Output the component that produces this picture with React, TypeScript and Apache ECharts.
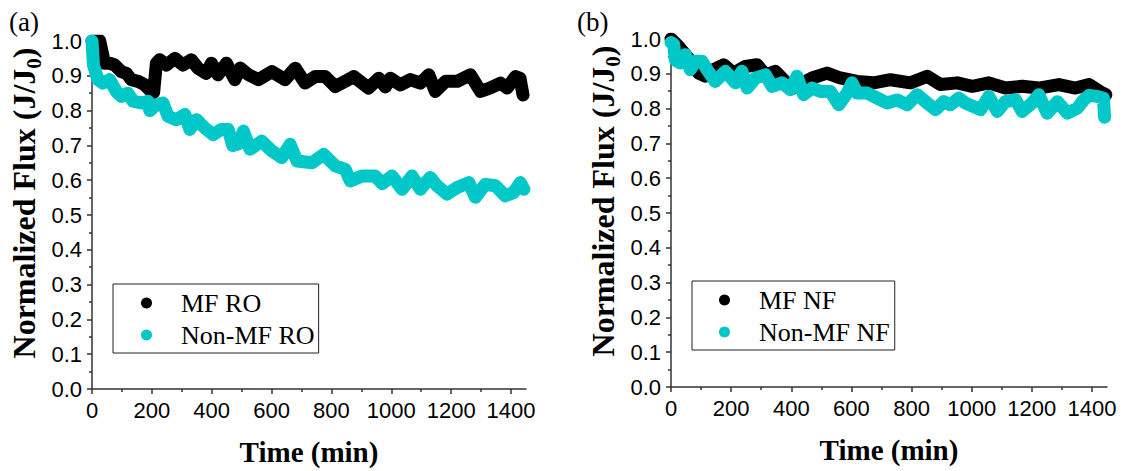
import React, { useEffect, useRef } from "react";
import * as echarts from "echarts";

// ---- data (time in min, normalized flux J/J0) ----
const mfRO: [number, number][] = [
  [0, 1.0], [26, 1.0], [42, 0.936], [59, 0.936], [76, 0.931], [98, 0.912], [115, 0.907],
  [131, 0.889], [154, 0.884], [176, 0.874], [198, 0.855], [206, 0.852], [215, 0.936],
  [226, 0.946], [249, 0.931], [277, 0.95], [304, 0.931], [332, 0.946], [354, 0.922],
  [382, 0.907], [399, 0.936], [421, 0.903], [449, 0.936], [477, 0.889], [495, 0.922],
  [523, 0.903], [556, 0.889], [601, 0.912], [645, 0.889], [679, 0.922], [712, 0.879],
  [746, 0.898], [779, 0.898], [813, 0.869], [846, 0.884], [874, 0.898], [924, 0.865],
  [958, 0.893], [980, 0.868], [997, 0.893], [1030, 0.874], [1064, 0.889], [1097, 0.879],
  [1125, 0.903], [1147, 0.855], [1181, 0.884], [1220, 0.884], [1264, 0.903], [1298, 0.855],
  [1331, 0.865], [1365, 0.879], [1387, 0.865], [1415, 0.898], [1430, 0.893], [1440, 0.845]
];
const nonMfRO: [number, number][] = [
  [0, 1.0], [5, 0.93], [20, 0.889], [37, 0.879], [59, 0.889], [81, 0.855], [98, 0.841],
  [120, 0.85], [137, 0.827], [165, 0.822], [187, 0.827], [193, 0.8], [215, 0.817],
  [237, 0.822], [254, 0.784], [282, 0.774], [310, 0.789], [327, 0.746], [349, 0.774],
  [377, 0.75], [405, 0.731], [432, 0.746], [455, 0.746], [470, 0.7], [490, 0.705],
  [506, 0.741], [528, 0.689], [567, 0.712], [601, 0.684], [634, 0.665], [662, 0.703],
  [685, 0.655], [735, 0.65], [774, 0.674], [813, 0.641], [846, 0.631], [863, 0.598],
  [902, 0.612], [946, 0.612], [970, 0.59], [1002, 0.612], [1036, 0.574], [1069, 0.612],
  [1097, 0.574], [1130, 0.608], [1153, 0.584], [1186, 0.56], [1220, 0.579], [1259, 0.593],
  [1281, 0.551], [1314, 0.588], [1348, 0.584], [1381, 0.555], [1409, 0.565], [1431, 0.593],
  [1443, 0.574]
];
const mfNF: [number, number][] = [
  [0, 1.0], [25, 0.979], [48, 0.955], [70, 0.931], [92, 0.902], [114, 0.893], [142, 0.912],
  [175, 0.926], [208, 0.902], [247, 0.921], [286, 0.926], [314, 0.897], [347, 0.907],
  [380, 0.878], [403, 0.858], [447, 0.878], [469, 0.888], [519, 0.902], [563, 0.888],
  [619, 0.878], [674, 0.874], [730, 0.883], [796, 0.874], [852, 0.893], [896, 0.869],
  [952, 0.874], [1002, 0.864], [1057, 0.874], [1112, 0.859], [1168, 0.864], [1223, 0.859],
  [1290, 0.869], [1345, 0.859], [1390, 0.869], [1434, 0.845], [1446, 0.84]
];
const nonMfNF: [number, number][] = [
  [0, 0.99], [9, 0.985], [14, 0.94], [31, 0.931], [48, 0.955], [64, 0.912], [81, 0.936],
  [103, 0.936], [120, 0.912], [147, 0.878], [181, 0.907], [214, 0.874], [236, 0.907],
  [253, 0.859], [281, 0.888], [314, 0.897], [336, 0.864], [369, 0.874], [397, 0.854],
  [419, 0.893], [441, 0.84], [469, 0.859], [497, 0.849], [530, 0.849], [558, 0.811],
  [586, 0.845], [602, 0.874], [619, 0.845], [652, 0.845], [686, 0.83], [719, 0.816],
  [752, 0.825], [785, 0.811], [819, 0.84], [852, 0.816], [880, 0.797], [907, 0.82],
  [929, 0.811], [957, 0.83], [979, 0.816], [1029, 0.797], [1057, 0.835], [1085, 0.792],
  [1112, 0.82], [1146, 0.825], [1168, 0.792], [1201, 0.816], [1223, 0.84], [1251, 0.787],
  [1285, 0.82], [1318, 0.787], [1351, 0.801], [1373, 0.825], [1390, 0.838], [1418, 0.835],
  [1438, 0.83], [1442, 0.775]
];

const xMajorTicks = [0, 200, 400, 600, 800, 1000, 1200, 1400];
const xMinorTicks = [100, 300, 500, 700, 900, 1100, 1300];
const xMax = 1450;
const yMin = 0;
const yMax = 1;
const yInterval = 0.1;

const seriesNamesA = ["MF RO", "Non-MF RO"];
const seriesNamesB = ["MF NF", "Non-MF NF"];
const BLACK = "#000000";
const CYAN = "#00C8C8";

const AXIS_COLOR = "#333333";
const SANS = "Liberation Sans";
const SERIF = "Liberation Serif";

function xAxes(gridIndex: number) {
  const lineStyle = { color: AXIS_COLOR, width: 1.5 };
  return [
    {
      type: "value",
      gridIndex,
      min: 0,
      max: xMax,
      axisLine: { show: true, onZero: false, lineStyle },
      axisTick: { show: true, length: 5, customValues: xMajorTicks, lineStyle },
      axisLabel: {
        customValues: xMajorTicks,
        formatter: (v: number) => String(v),
        fontSize: 22,
        fontFamily: SANS,
        color: "#000",
        margin: 10,
      },
      splitLine: { show: false },
      name: "Time (min)",
      nameLocation: "middle",
      nameGap: 48,
      nameTextStyle: { fontSize: 29, fontFamily: SERIF, fontWeight: "bold", color: "#000" },
    },
    {
      type: "value",
      gridIndex,
      min: 0,
      max: xMax,
      position: "bottom",
      axisLine: { show: false },
      axisTick: { show: true, length: 3, customValues: xMinorTicks, lineStyle },
      axisLabel: { show: false },
      splitLine: { show: false },
    },
  ];
}

function yAxis(gridIndex: number) {
  const lineStyle = { color: AXIS_COLOR, width: 1.5 };
  return {
    type: "value",
    gridIndex,
    min: yMin,
    max: yMax,
    interval: yInterval,
    axisLine: { show: true, onZero: false, lineStyle },
    axisTick: { show: true, length: 5, lineStyle },
    minorTick: { show: true, splitNumber: 2, length: 3, lineStyle },
    axisLabel: {
      formatter: (v: number) => v.toFixed(1),
      fontSize: 22,
      fontFamily: SANS,
      color: "#000",
      margin: 10,
    },
    splitLine: { show: false },
    minorSplitLine: { show: false },
    name: "{t|Normalized Flux (J/J}{s|0}{t|)}",
    nameLocation: "middle",
    nameGap: 48,
    nameTextStyle: {
      padding: [0, 0, 0, 24],
      rich: {
        t: { fontSize: 32, fontFamily: SERIF, fontWeight: "bold", color: "#000", lineHeight: 40 },
        s: { fontSize: 21, fontFamily: SERIF, fontWeight: "bold", color: "#000", verticalAlign: "bottom" },
      },
    },
  };
}

function lineSeries(name: string, data: [number, number][], color: string, xi: number, yi: number) {
  return {
    type: "line",
    name,
    data,
    xAxisIndex: xi,
    yAxisIndex: yi,
    showSymbol: false,
    symbol: "circle",
    color,
    itemStyle: { color },
    lineStyle: { width: 13, color, cap: "round", join: "round" },
    clip: true,
    silent: true,
    emphasis: { disabled: true },
  };
}

function legend(names: string[], left: number, top: number, padding: number[]) {
  return {
    data: names,
    left,
    top,
    orient: "vertical",
    icon: "circle",
    itemWidth: 11,
    itemHeight: 11,
    itemGap: 6,
    padding,
    borderColor: "#222",
    borderWidth: 1,
    selectedMode: false,
    textStyle: { fontSize: 26, fontFamily: SERIF, color: "#000", padding: [0, 0, 0, 24] },
  };
}

export default function App() {
  const ref = useRef<HTMLDivElement>(null);
  useEffect(() => {
    if (!ref.current) return;
    const chart = echarts.init(ref.current, undefined, { renderer: "svg" });
    chart.setOption({
      animation: false,
      backgroundColor: "#ffffff",
      grid: [
        { left: 92, top: 41, width: 434, height: 350 },
        { left: 671, top: 39, width: 436, height: 348 },
      ],
      xAxis: [...xAxes(0), ...xAxes(1)],
      yAxis: [yAxis(0), yAxis(1)],
      legend: [
        legend(seriesNamesA, 113, 284, [6, 4, 5, 28]),
        legend(seriesNamesB, 692, 281, [6, 5, 5, 27]),
      ],
      series: [
        lineSeries(seriesNamesA[0], mfRO, BLACK, 0, 0),
        lineSeries(seriesNamesA[1], nonMfRO, CYAN, 0, 0),
        lineSeries(seriesNamesB[0], mfNF, BLACK, 2, 1),
        lineSeries(seriesNamesB[1], nonMfNF, CYAN, 2, 1),
      ],
      graphic: [
        {
          type: "text",
          x: 9,
          y: 22,
          style: { text: "(a)", fontSize: 27, fontFamily: SERIF, fill: "#000", verticalAlign: "middle" },
        },
        {
          type: "text",
          x: 577,
          y: 22,
          style: { text: "(b)", fontSize: 27, fontFamily: SERIF, fill: "#000", verticalAlign: "middle" },
        },
      ],
    });
    return () => chart.dispose();
  }, []);
  return (
    <div
      ref={ref}
      style={{ position: "absolute", left: 0, top: 0, width: 1123, height: 471, background: "#fff" }}
    />
  );
}
